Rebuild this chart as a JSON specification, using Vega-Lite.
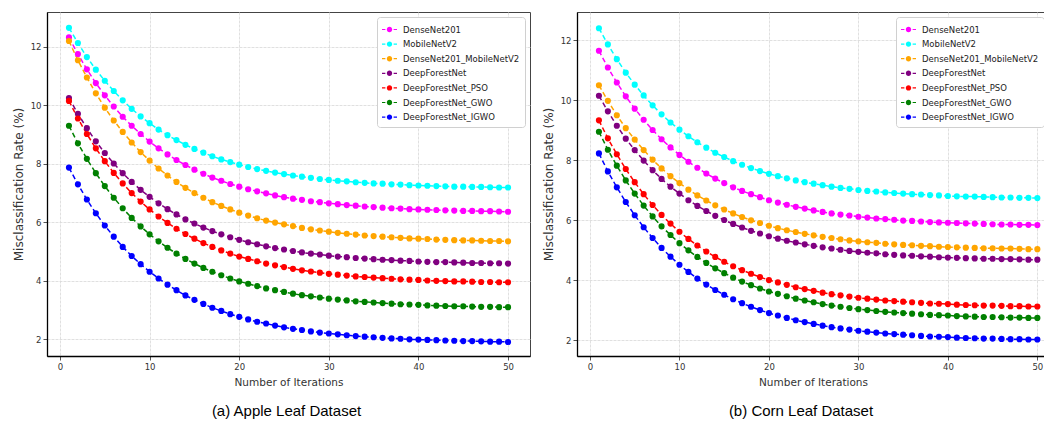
{
"$schema": "https://vega.github.io/schema/vega-lite/v6.json",
"padding": {"left": 11, "top": 11, "right": 0, "bottom": 0},
"background": "white",
"spacing": 10,
"config": {
  "view": {"stroke": "#444", "strokeWidth": 1},
  "axis": {"labelFont": "DejaVu Sans", "labelFontSize": 8.5, "labelColor": "#333", "titleFont": "DejaVu Sans", "titleFontWeight": "normal", "titleColor": "#333", "tickColor": "#555", "tickSize": 4, "labelPadding": 2, "domainColor": "#000", "domainWidth": 1.3, "gridColor": "#d8d8d8", "gridDash": [3, 1], "gridWidth": 0.8},
  "axisX": {"titleFontSize": 10.5, "titlePadding": 7},
  "axisY": {"titleFontSize": 12, "titlePadding": 5},
  "title": {"font": "Liberation Sans", "fontSize": 15, "fontWeight": "normal", "color": "#000", "orient": "bottom", "offset": 16},
  "legend": {"symbolSize": 225, "symbolStrokeWidth": 0, "symbolOpacity": 1, "labelFont": "DejaVu Sans", "labelFontSize": 8.5, "labelColor": "#222", "fillColor": "#ffffff", "strokeColor": "#d0d0d0", "cornerRadius": 3, "padding": 5, "rowPadding": 2.6, "labelOffset": 6}
},
"resolve": {"scale": {"color": "independent", "x": "independent", "y": "independent"}, "legend": {"color": "independent"}},
"datasets": {
"apple": [
{"model":"DenseNet201","iter":1,"rate":12.32},{"model":"DenseNet201","iter":2,"rate":11.75},{"model":"DenseNet201","iter":3,"rate":11.23},{"model":"DenseNet201","iter":4,"rate":10.76},{"model":"DenseNet201","iter":5,"rate":10.34},{"model":"DenseNet201","iter":6,"rate":9.96},{"model":"DenseNet201","iter":7,"rate":9.61},{"model":"DenseNet201","iter":8,"rate":9.30},{"model":"DenseNet201","iter":9,"rate":9.02},{"model":"DenseNet201","iter":10,"rate":8.76},
{"model":"DenseNet201","iter":11,"rate":8.53},{"model":"DenseNet201","iter":12,"rate":8.32},{"model":"DenseNet201","iter":13,"rate":8.13},{"model":"DenseNet201","iter":14,"rate":7.96},{"model":"DenseNet201","iter":15,"rate":7.80},{"model":"DenseNet201","iter":16,"rate":7.66},{"model":"DenseNet201","iter":17,"rate":7.53},{"model":"DenseNet201","iter":18,"rate":7.42},{"model":"DenseNet201","iter":19,"rate":7.31},{"model":"DenseNet201","iter":20,"rate":7.22},
{"model":"DenseNet201","iter":21,"rate":7.13},{"model":"DenseNet201","iter":22,"rate":7.06},{"model":"DenseNet201","iter":23,"rate":6.99},{"model":"DenseNet201","iter":24,"rate":6.92},{"model":"DenseNet201","iter":25,"rate":6.86},{"model":"DenseNet201","iter":26,"rate":6.81},{"model":"DenseNet201","iter":27,"rate":6.77},{"model":"DenseNet201","iter":28,"rate":6.72},{"model":"DenseNet201","iter":29,"rate":6.69},{"model":"DenseNet201","iter":30,"rate":6.65},
{"model":"DenseNet201","iter":31,"rate":6.62},{"model":"DenseNet201","iter":32,"rate":6.59},{"model":"DenseNet201","iter":33,"rate":6.57},{"model":"DenseNet201","iter":34,"rate":6.54},{"model":"DenseNet201","iter":35,"rate":6.52},{"model":"DenseNet201","iter":36,"rate":6.50},{"model":"DenseNet201","iter":37,"rate":6.48},{"model":"DenseNet201","iter":38,"rate":6.47},{"model":"DenseNet201","iter":39,"rate":6.45},{"model":"DenseNet201","iter":40,"rate":6.44},
{"model":"DenseNet201","iter":41,"rate":6.43},{"model":"DenseNet201","iter":42,"rate":6.42},{"model":"DenseNet201","iter":43,"rate":6.41},{"model":"DenseNet201","iter":44,"rate":6.40},{"model":"DenseNet201","iter":45,"rate":6.39},{"model":"DenseNet201","iter":46,"rate":6.39},{"model":"DenseNet201","iter":47,"rate":6.38},{"model":"DenseNet201","iter":48,"rate":6.38},{"model":"DenseNet201","iter":49,"rate":6.37},{"model":"DenseNet201","iter":50,"rate":6.36},
{"model":"MobileNetV2","iter":1,"rate":12.65},{"model":"MobileNetV2","iter":2,"rate":12.13},{"model":"MobileNetV2","iter":3,"rate":11.65},{"model":"MobileNetV2","iter":4,"rate":11.22},{"model":"MobileNetV2","iter":5,"rate":10.84},{"model":"MobileNetV2","iter":6,"rate":10.49},{"model":"MobileNetV2","iter":7,"rate":10.17},{"model":"MobileNetV2","iter":8,"rate":9.88},{"model":"MobileNetV2","iter":9,"rate":9.62},{"model":"MobileNetV2","iter":10,"rate":9.39},
{"model":"MobileNetV2","iter":11,"rate":9.17},{"model":"MobileNetV2","iter":12,"rate":8.98},{"model":"MobileNetV2","iter":13,"rate":8.81},{"model":"MobileNetV2","iter":14,"rate":8.65},{"model":"MobileNetV2","iter":15,"rate":8.51},{"model":"MobileNetV2","iter":16,"rate":8.38},{"model":"MobileNetV2","iter":17,"rate":8.26},{"model":"MobileNetV2","iter":18,"rate":8.15},{"model":"MobileNetV2","iter":19,"rate":8.06},{"model":"MobileNetV2","iter":20,"rate":7.97},
{"model":"MobileNetV2","iter":21,"rate":7.89},{"model":"MobileNetV2","iter":22,"rate":7.82},{"model":"MobileNetV2","iter":23,"rate":7.76},{"model":"MobileNetV2","iter":24,"rate":7.70},{"model":"MobileNetV2","iter":25,"rate":7.65},{"model":"MobileNetV2","iter":26,"rate":7.60},{"model":"MobileNetV2","iter":27,"rate":7.56},{"model":"MobileNetV2","iter":28,"rate":7.52},{"model":"MobileNetV2","iter":29,"rate":7.48},{"model":"MobileNetV2","iter":30,"rate":7.45},
{"model":"MobileNetV2","iter":31,"rate":7.42},{"model":"MobileNetV2","iter":32,"rate":7.40},{"model":"MobileNetV2","iter":33,"rate":7.37},{"model":"MobileNetV2","iter":34,"rate":7.35},{"model":"MobileNetV2","iter":35,"rate":7.33},{"model":"MobileNetV2","iter":36,"rate":7.32},{"model":"MobileNetV2","iter":37,"rate":7.30},{"model":"MobileNetV2","iter":38,"rate":7.29},{"model":"MobileNetV2","iter":39,"rate":7.27},{"model":"MobileNetV2","iter":40,"rate":7.26},
{"model":"MobileNetV2","iter":41,"rate":7.25},{"model":"MobileNetV2","iter":42,"rate":7.24},{"model":"MobileNetV2","iter":43,"rate":7.23},{"model":"MobileNetV2","iter":44,"rate":7.22},{"model":"MobileNetV2","iter":45,"rate":7.22},{"model":"MobileNetV2","iter":46,"rate":7.21},{"model":"MobileNetV2","iter":47,"rate":7.21},{"model":"MobileNetV2","iter":48,"rate":7.20},{"model":"MobileNetV2","iter":49,"rate":7.19},{"model":"MobileNetV2","iter":50,"rate":7.19},
{"model":"DenseNet201_MobileNetV2","iter":1,"rate":12.20},{"model":"DenseNet201_MobileNetV2","iter":2,"rate":11.54},{"model":"DenseNet201_MobileNetV2","iter":3,"rate":10.95},{"model":"DenseNet201_MobileNetV2","iter":4,"rate":10.41},{"model":"DenseNet201_MobileNetV2","iter":5,"rate":9.92},{"model":"DenseNet201_MobileNetV2","iter":6,"rate":9.48},{"model":"DenseNet201_MobileNetV2","iter":7,"rate":9.09},{"model":"DenseNet201_MobileNetV2","iter":8,"rate":8.73},{"model":"DenseNet201_MobileNetV2","iter":9,"rate":8.40},{"model":"DenseNet201_MobileNetV2","iter":10,"rate":8.11},
{"model":"DenseNet201_MobileNetV2","iter":11,"rate":7.84},{"model":"DenseNet201_MobileNetV2","iter":12,"rate":7.60},{"model":"DenseNet201_MobileNetV2","iter":13,"rate":7.38},{"model":"DenseNet201_MobileNetV2","iter":14,"rate":7.18},{"model":"DenseNet201_MobileNetV2","iter":15,"rate":7.00},{"model":"DenseNet201_MobileNetV2","iter":16,"rate":6.84},{"model":"DenseNet201_MobileNetV2","iter":17,"rate":6.69},{"model":"DenseNet201_MobileNetV2","iter":18,"rate":6.56},{"model":"DenseNet201_MobileNetV2","iter":19,"rate":6.44},{"model":"DenseNet201_MobileNetV2","iter":20,"rate":6.33},
{"model":"DenseNet201_MobileNetV2","iter":21,"rate":6.23},{"model":"DenseNet201_MobileNetV2","iter":22,"rate":6.14},{"model":"DenseNet201_MobileNetV2","iter":23,"rate":6.06},{"model":"DenseNet201_MobileNetV2","iter":24,"rate":5.99},{"model":"DenseNet201_MobileNetV2","iter":25,"rate":5.93},{"model":"DenseNet201_MobileNetV2","iter":26,"rate":5.87},{"model":"DenseNet201_MobileNetV2","iter":27,"rate":5.81},{"model":"DenseNet201_MobileNetV2","iter":28,"rate":5.76},{"model":"DenseNet201_MobileNetV2","iter":29,"rate":5.72},{"model":"DenseNet201_MobileNetV2","iter":30,"rate":5.68},
{"model":"DenseNet201_MobileNetV2","iter":31,"rate":5.64},{"model":"DenseNet201_MobileNetV2","iter":32,"rate":5.61},{"model":"DenseNet201_MobileNetV2","iter":33,"rate":5.58},{"model":"DenseNet201_MobileNetV2","iter":34,"rate":5.55},{"model":"DenseNet201_MobileNetV2","iter":35,"rate":5.53},{"model":"DenseNet201_MobileNetV2","iter":36,"rate":5.51},{"model":"DenseNet201_MobileNetV2","iter":37,"rate":5.49},{"model":"DenseNet201_MobileNetV2","iter":38,"rate":5.47},{"model":"DenseNet201_MobileNetV2","iter":39,"rate":5.45},{"model":"DenseNet201_MobileNetV2","iter":40,"rate":5.44},
{"model":"DenseNet201_MobileNetV2","iter":41,"rate":5.43},{"model":"DenseNet201_MobileNetV2","iter":42,"rate":5.41},{"model":"DenseNet201_MobileNetV2","iter":43,"rate":5.40},{"model":"DenseNet201_MobileNetV2","iter":44,"rate":5.39},{"model":"DenseNet201_MobileNetV2","iter":45,"rate":5.38},{"model":"DenseNet201_MobileNetV2","iter":46,"rate":5.38},{"model":"DenseNet201_MobileNetV2","iter":47,"rate":5.37},{"model":"DenseNet201_MobileNetV2","iter":48,"rate":5.36},{"model":"DenseNet201_MobileNetV2","iter":49,"rate":5.36},{"model":"DenseNet201_MobileNetV2","iter":50,"rate":5.35},
{"model":"DeepForestNet","iter":1,"rate":10.25},{"model":"DeepForestNet","iter":2,"rate":9.71},{"model":"DeepForestNet","iter":3,"rate":9.22},{"model":"DeepForestNet","iter":4,"rate":8.77},{"model":"DeepForestNet","iter":5,"rate":8.37},{"model":"DeepForestNet","iter":6,"rate":8.01},{"model":"DeepForestNet","iter":7,"rate":7.68},{"model":"DeepForestNet","iter":8,"rate":7.38},{"model":"DeepForestNet","iter":9,"rate":7.11},{"model":"DeepForestNet","iter":10,"rate":6.87},
{"model":"DeepForestNet","iter":11,"rate":6.65},{"model":"DeepForestNet","iter":12,"rate":6.45},{"model":"DeepForestNet","iter":13,"rate":6.27},{"model":"DeepForestNet","iter":14,"rate":6.10},{"model":"DeepForestNet","iter":15,"rate":5.96},{"model":"DeepForestNet","iter":16,"rate":5.82},{"model":"DeepForestNet","iter":17,"rate":5.70},{"model":"DeepForestNet","iter":18,"rate":5.59},{"model":"DeepForestNet","iter":19,"rate":5.49},{"model":"DeepForestNet","iter":20,"rate":5.40},
{"model":"DeepForestNet","iter":21,"rate":5.32},{"model":"DeepForestNet","iter":22,"rate":5.25},{"model":"DeepForestNet","iter":23,"rate":5.18},{"model":"DeepForestNet","iter":24,"rate":5.12},{"model":"DeepForestNet","iter":25,"rate":5.07},{"model":"DeepForestNet","iter":26,"rate":5.02},{"model":"DeepForestNet","iter":27,"rate":4.97},{"model":"DeepForestNet","iter":28,"rate":4.93},{"model":"DeepForestNet","iter":29,"rate":4.90},{"model":"DeepForestNet","iter":30,"rate":4.86},
{"model":"DeepForestNet","iter":31,"rate":4.83},{"model":"DeepForestNet","iter":32,"rate":4.81},{"model":"DeepForestNet","iter":33,"rate":4.78},{"model":"DeepForestNet","iter":34,"rate":4.76},{"model":"DeepForestNet","iter":35,"rate":4.74},{"model":"DeepForestNet","iter":36,"rate":4.72},{"model":"DeepForestNet","iter":37,"rate":4.71},{"model":"DeepForestNet","iter":38,"rate":4.69},{"model":"DeepForestNet","iter":39,"rate":4.68},{"model":"DeepForestNet","iter":40,"rate":4.66},
{"model":"DeepForestNet","iter":41,"rate":4.65},{"model":"DeepForestNet","iter":42,"rate":4.64},{"model":"DeepForestNet","iter":43,"rate":4.64},{"model":"DeepForestNet","iter":44,"rate":4.63},{"model":"DeepForestNet","iter":45,"rate":4.62},{"model":"DeepForestNet","iter":46,"rate":4.61},{"model":"DeepForestNet","iter":47,"rate":4.61},{"model":"DeepForestNet","iter":48,"rate":4.60},{"model":"DeepForestNet","iter":49,"rate":4.60},{"model":"DeepForestNet","iter":50,"rate":4.59},
{"model":"DeepForestNet_PSO","iter":1,"rate":10.15},{"model":"DeepForestNet_PSO","iter":2,"rate":9.55},{"model":"DeepForestNet_PSO","iter":3,"rate":9.02},{"model":"DeepForestNet_PSO","iter":4,"rate":8.53},{"model":"DeepForestNet_PSO","iter":5,"rate":8.09},{"model":"DeepForestNet_PSO","iter":6,"rate":7.69},{"model":"DeepForestNet_PSO","iter":7,"rate":7.33},{"model":"DeepForestNet_PSO","iter":8,"rate":7.00},{"model":"DeepForestNet_PSO","iter":9,"rate":6.71},{"model":"DeepForestNet_PSO","iter":10,"rate":6.44},
{"model":"DeepForestNet_PSO","iter":11,"rate":6.20},{"model":"DeepForestNet_PSO","iter":12,"rate":5.98},{"model":"DeepForestNet_PSO","iter":13,"rate":5.78},{"model":"DeepForestNet_PSO","iter":14,"rate":5.60},{"model":"DeepForestNet_PSO","iter":15,"rate":5.44},{"model":"DeepForestNet_PSO","iter":16,"rate":5.29},{"model":"DeepForestNet_PSO","iter":17,"rate":5.16},{"model":"DeepForestNet_PSO","iter":18,"rate":5.04},{"model":"DeepForestNet_PSO","iter":19,"rate":4.93},{"model":"DeepForestNet_PSO","iter":20,"rate":4.83},
{"model":"DeepForestNet_PSO","iter":21,"rate":4.75},{"model":"DeepForestNet_PSO","iter":22,"rate":4.67},{"model":"DeepForestNet_PSO","iter":23,"rate":4.59},{"model":"DeepForestNet_PSO","iter":24,"rate":4.53},{"model":"DeepForestNet_PSO","iter":25,"rate":4.47},{"model":"DeepForestNet_PSO","iter":26,"rate":4.41},{"model":"DeepForestNet_PSO","iter":27,"rate":4.36},{"model":"DeepForestNet_PSO","iter":28,"rate":4.32},{"model":"DeepForestNet_PSO","iter":29,"rate":4.28},{"model":"DeepForestNet_PSO","iter":30,"rate":4.24},
{"model":"DeepForestNet_PSO","iter":31,"rate":4.21},{"model":"DeepForestNet_PSO","iter":32,"rate":4.18},{"model":"DeepForestNet_PSO","iter":33,"rate":4.15},{"model":"DeepForestNet_PSO","iter":34,"rate":4.13},{"model":"DeepForestNet_PSO","iter":35,"rate":4.11},{"model":"DeepForestNet_PSO","iter":36,"rate":4.09},{"model":"DeepForestNet_PSO","iter":37,"rate":4.07},{"model":"DeepForestNet_PSO","iter":38,"rate":4.05},{"model":"DeepForestNet_PSO","iter":39,"rate":4.04},{"model":"DeepForestNet_PSO","iter":40,"rate":4.03},
{"model":"DeepForestNet_PSO","iter":41,"rate":4.01},{"model":"DeepForestNet_PSO","iter":42,"rate":4.00},{"model":"DeepForestNet_PSO","iter":43,"rate":3.99},{"model":"DeepForestNet_PSO","iter":44,"rate":3.98},{"model":"DeepForestNet_PSO","iter":45,"rate":3.98},{"model":"DeepForestNet_PSO","iter":46,"rate":3.97},{"model":"DeepForestNet_PSO","iter":47,"rate":3.96},{"model":"DeepForestNet_PSO","iter":48,"rate":3.96},{"model":"DeepForestNet_PSO","iter":49,"rate":3.95},{"model":"DeepForestNet_PSO","iter":50,"rate":3.95},
{"model":"DeepForestNet_GWO","iter":1,"rate":9.30},{"model":"DeepForestNet_GWO","iter":2,"rate":8.70},{"model":"DeepForestNet_GWO","iter":3,"rate":8.17},{"model":"DeepForestNet_GWO","iter":4,"rate":7.68},{"model":"DeepForestNet_GWO","iter":5,"rate":7.24},{"model":"DeepForestNet_GWO","iter":6,"rate":6.84},{"model":"DeepForestNet_GWO","iter":7,"rate":6.48},{"model":"DeepForestNet_GWO","iter":8,"rate":6.15},{"model":"DeepForestNet_GWO","iter":9,"rate":5.86},{"model":"DeepForestNet_GWO","iter":10,"rate":5.59},
{"model":"DeepForestNet_GWO","iter":11,"rate":5.35},{"model":"DeepForestNet_GWO","iter":12,"rate":5.13},{"model":"DeepForestNet_GWO","iter":13,"rate":4.93},{"model":"DeepForestNet_GWO","iter":14,"rate":4.75},{"model":"DeepForestNet_GWO","iter":15,"rate":4.59},{"model":"DeepForestNet_GWO","iter":16,"rate":4.44},{"model":"DeepForestNet_GWO","iter":17,"rate":4.31},{"model":"DeepForestNet_GWO","iter":18,"rate":4.19},{"model":"DeepForestNet_GWO","iter":19,"rate":4.08},{"model":"DeepForestNet_GWO","iter":20,"rate":3.98},
{"model":"DeepForestNet_GWO","iter":21,"rate":3.90},{"model":"DeepForestNet_GWO","iter":22,"rate":3.82},{"model":"DeepForestNet_GWO","iter":23,"rate":3.74},{"model":"DeepForestNet_GWO","iter":24,"rate":3.68},{"model":"DeepForestNet_GWO","iter":25,"rate":3.62},{"model":"DeepForestNet_GWO","iter":26,"rate":3.56},{"model":"DeepForestNet_GWO","iter":27,"rate":3.51},{"model":"DeepForestNet_GWO","iter":28,"rate":3.47},{"model":"DeepForestNet_GWO","iter":29,"rate":3.43},{"model":"DeepForestNet_GWO","iter":30,"rate":3.39},
{"model":"DeepForestNet_GWO","iter":31,"rate":3.36},{"model":"DeepForestNet_GWO","iter":32,"rate":3.33},{"model":"DeepForestNet_GWO","iter":33,"rate":3.30},{"model":"DeepForestNet_GWO","iter":34,"rate":3.28},{"model":"DeepForestNet_GWO","iter":35,"rate":3.26},{"model":"DeepForestNet_GWO","iter":36,"rate":3.24},{"model":"DeepForestNet_GWO","iter":37,"rate":3.22},{"model":"DeepForestNet_GWO","iter":38,"rate":3.20},{"model":"DeepForestNet_GWO","iter":39,"rate":3.19},{"model":"DeepForestNet_GWO","iter":40,"rate":3.18},
{"model":"DeepForestNet_GWO","iter":41,"rate":3.16},{"model":"DeepForestNet_GWO","iter":42,"rate":3.15},{"model":"DeepForestNet_GWO","iter":43,"rate":3.14},{"model":"DeepForestNet_GWO","iter":44,"rate":3.13},{"model":"DeepForestNet_GWO","iter":45,"rate":3.13},{"model":"DeepForestNet_GWO","iter":46,"rate":3.12},{"model":"DeepForestNet_GWO","iter":47,"rate":3.11},{"model":"DeepForestNet_GWO","iter":48,"rate":3.11},{"model":"DeepForestNet_GWO","iter":49,"rate":3.10},{"model":"DeepForestNet_GWO","iter":50,"rate":3.10},
{"model":"DeepForestNet_IGWO","iter":1,"rate":7.87},{"model":"DeepForestNet_IGWO","iter":2,"rate":7.30},{"model":"DeepForestNet_IGWO","iter":3,"rate":6.78},{"model":"DeepForestNet_IGWO","iter":4,"rate":6.31},{"model":"DeepForestNet_IGWO","iter":5,"rate":5.89},{"model":"DeepForestNet_IGWO","iter":6,"rate":5.51},{"model":"DeepForestNet_IGWO","iter":7,"rate":5.16},{"model":"DeepForestNet_IGWO","iter":8,"rate":4.85},{"model":"DeepForestNet_IGWO","iter":9,"rate":4.57},{"model":"DeepForestNet_IGWO","iter":10,"rate":4.31},
{"model":"DeepForestNet_IGWO","iter":11,"rate":4.08},{"model":"DeepForestNet_IGWO","iter":12,"rate":3.87},{"model":"DeepForestNet_IGWO","iter":13,"rate":3.68},{"model":"DeepForestNet_IGWO","iter":14,"rate":3.50},{"model":"DeepForestNet_IGWO","iter":15,"rate":3.35},{"model":"DeepForestNet_IGWO","iter":16,"rate":3.21},{"model":"DeepForestNet_IGWO","iter":17,"rate":3.08},{"model":"DeepForestNet_IGWO","iter":18,"rate":2.97},{"model":"DeepForestNet_IGWO","iter":19,"rate":2.86},{"model":"DeepForestNet_IGWO","iter":20,"rate":2.77},
{"model":"DeepForestNet_IGWO","iter":21,"rate":2.68},{"model":"DeepForestNet_IGWO","iter":22,"rate":2.60},{"model":"DeepForestNet_IGWO","iter":23,"rate":2.54},{"model":"DeepForestNet_IGWO","iter":24,"rate":2.47},{"model":"DeepForestNet_IGWO","iter":25,"rate":2.41},{"model":"DeepForestNet_IGWO","iter":26,"rate":2.36},{"model":"DeepForestNet_IGWO","iter":27,"rate":2.32},{"model":"DeepForestNet_IGWO","iter":28,"rate":2.27},{"model":"DeepForestNet_IGWO","iter":29,"rate":2.23},{"model":"DeepForestNet_IGWO","iter":30,"rate":2.20},
{"model":"DeepForestNet_IGWO","iter":31,"rate":2.17},{"model":"DeepForestNet_IGWO","iter":32,"rate":2.14},{"model":"DeepForestNet_IGWO","iter":33,"rate":2.11},{"model":"DeepForestNet_IGWO","iter":34,"rate":2.09},{"model":"DeepForestNet_IGWO","iter":35,"rate":2.07},{"model":"DeepForestNet_IGWO","iter":36,"rate":2.05},{"model":"DeepForestNet_IGWO","iter":37,"rate":2.03},{"model":"DeepForestNet_IGWO","iter":38,"rate":2.02},{"model":"DeepForestNet_IGWO","iter":39,"rate":2.00},{"model":"DeepForestNet_IGWO","iter":40,"rate":1.99},
{"model":"DeepForestNet_IGWO","iter":41,"rate":1.98},{"model":"DeepForestNet_IGWO","iter":42,"rate":1.97},{"model":"DeepForestNet_IGWO","iter":43,"rate":1.96},{"model":"DeepForestNet_IGWO","iter":44,"rate":1.95},{"model":"DeepForestNet_IGWO","iter":45,"rate":1.94},{"model":"DeepForestNet_IGWO","iter":46,"rate":1.94},{"model":"DeepForestNet_IGWO","iter":47,"rate":1.93},{"model":"DeepForestNet_IGWO","iter":48,"rate":1.92},{"model":"DeepForestNet_IGWO","iter":49,"rate":1.92},{"model":"DeepForestNet_IGWO","iter":50,"rate":1.91}
],
"corn": [
{"model":"DenseNet201","iter":1,"rate":11.65},{"model":"DenseNet201","iter":2,"rate":11.09},{"model":"DenseNet201","iter":3,"rate":10.59},{"model":"DenseNet201","iter":4,"rate":10.13},{"model":"DenseNet201","iter":5,"rate":9.72},{"model":"DenseNet201","iter":6,"rate":9.35},{"model":"DenseNet201","iter":7,"rate":9.01},{"model":"DenseNet201","iter":8,"rate":8.70},{"model":"DenseNet201","iter":9,"rate":8.43},{"model":"DenseNet201","iter":10,"rate":8.18},
{"model":"DenseNet201","iter":11,"rate":7.95},{"model":"DenseNet201","iter":12,"rate":7.75},{"model":"DenseNet201","iter":13,"rate":7.56},{"model":"DenseNet201","iter":14,"rate":7.39},{"model":"DenseNet201","iter":15,"rate":7.24},{"model":"DenseNet201","iter":16,"rate":7.10},{"model":"DenseNet201","iter":17,"rate":6.98},{"model":"DenseNet201","iter":18,"rate":6.87},{"model":"DenseNet201","iter":19,"rate":6.77},{"model":"DenseNet201","iter":20,"rate":6.67},
{"model":"DenseNet201","iter":21,"rate":6.59},{"model":"DenseNet201","iter":22,"rate":6.52},{"model":"DenseNet201","iter":23,"rate":6.45},{"model":"DenseNet201","iter":24,"rate":6.39},{"model":"DenseNet201","iter":25,"rate":6.33},{"model":"DenseNet201","iter":26,"rate":6.28},{"model":"DenseNet201","iter":27,"rate":6.23},{"model":"DenseNet201","iter":28,"rate":6.19},{"model":"DenseNet201","iter":29,"rate":6.16},{"model":"DenseNet201","iter":30,"rate":6.12},
{"model":"DenseNet201","iter":31,"rate":6.09},{"model":"DenseNet201","iter":32,"rate":6.06},{"model":"DenseNet201","iter":33,"rate":6.04},{"model":"DenseNet201","iter":34,"rate":6.02},{"model":"DenseNet201","iter":35,"rate":5.99},{"model":"DenseNet201","iter":36,"rate":5.98},{"model":"DenseNet201","iter":37,"rate":5.96},{"model":"DenseNet201","iter":38,"rate":5.94},{"model":"DenseNet201","iter":39,"rate":5.93},{"model":"DenseNet201","iter":40,"rate":5.92},
{"model":"DenseNet201","iter":41,"rate":5.91},{"model":"DenseNet201","iter":42,"rate":5.90},{"model":"DenseNet201","iter":43,"rate":5.89},{"model":"DenseNet201","iter":44,"rate":5.88},{"model":"DenseNet201","iter":45,"rate":5.87},{"model":"DenseNet201","iter":46,"rate":5.86},{"model":"DenseNet201","iter":47,"rate":5.86},{"model":"DenseNet201","iter":48,"rate":5.85},{"model":"DenseNet201","iter":49,"rate":5.85},{"model":"DenseNet201","iter":50,"rate":5.84},
{"model":"MobileNetV2","iter":1,"rate":12.40},{"model":"MobileNetV2","iter":2,"rate":11.86},{"model":"MobileNetV2","iter":3,"rate":11.37},{"model":"MobileNetV2","iter":4,"rate":10.92},{"model":"MobileNetV2","iter":5,"rate":10.52},{"model":"MobileNetV2","iter":6,"rate":10.16},{"model":"MobileNetV2","iter":7,"rate":9.83},{"model":"MobileNetV2","iter":8,"rate":9.53},{"model":"MobileNetV2","iter":9,"rate":9.26},{"model":"MobileNetV2","iter":10,"rate":9.02},
{"model":"MobileNetV2","iter":11,"rate":8.80},{"model":"MobileNetV2","iter":12,"rate":8.60},{"model":"MobileNetV2","iter":13,"rate":8.42},{"model":"MobileNetV2","iter":14,"rate":8.25},{"model":"MobileNetV2","iter":15,"rate":8.11},{"model":"MobileNetV2","iter":16,"rate":7.97},{"model":"MobileNetV2","iter":17,"rate":7.85},{"model":"MobileNetV2","iter":18,"rate":7.74},{"model":"MobileNetV2","iter":19,"rate":7.64},{"model":"MobileNetV2","iter":20,"rate":7.55},
{"model":"MobileNetV2","iter":21,"rate":7.47},{"model":"MobileNetV2","iter":22,"rate":7.40},{"model":"MobileNetV2","iter":23,"rate":7.33},{"model":"MobileNetV2","iter":24,"rate":7.27},{"model":"MobileNetV2","iter":25,"rate":7.22},{"model":"MobileNetV2","iter":26,"rate":7.17},{"model":"MobileNetV2","iter":27,"rate":7.12},{"model":"MobileNetV2","iter":28,"rate":7.08},{"model":"MobileNetV2","iter":29,"rate":7.05},{"model":"MobileNetV2","iter":30,"rate":7.01},
{"model":"MobileNetV2","iter":31,"rate":6.98},{"model":"MobileNetV2","iter":32,"rate":6.96},{"model":"MobileNetV2","iter":33,"rate":6.93},{"model":"MobileNetV2","iter":34,"rate":6.91},{"model":"MobileNetV2","iter":35,"rate":6.89},{"model":"MobileNetV2","iter":36,"rate":6.87},{"model":"MobileNetV2","iter":37,"rate":6.86},{"model":"MobileNetV2","iter":38,"rate":6.84},{"model":"MobileNetV2","iter":39,"rate":6.83},{"model":"MobileNetV2","iter":40,"rate":6.81},
{"model":"MobileNetV2","iter":41,"rate":6.80},{"model":"MobileNetV2","iter":42,"rate":6.79},{"model":"MobileNetV2","iter":43,"rate":6.79},{"model":"MobileNetV2","iter":44,"rate":6.78},{"model":"MobileNetV2","iter":45,"rate":6.77},{"model":"MobileNetV2","iter":46,"rate":6.76},{"model":"MobileNetV2","iter":47,"rate":6.76},{"model":"MobileNetV2","iter":48,"rate":6.75},{"model":"MobileNetV2","iter":49,"rate":6.75},{"model":"MobileNetV2","iter":50,"rate":6.74},
{"model":"DenseNet201_MobileNetV2","iter":1,"rate":10.50},{"model":"DenseNet201_MobileNetV2","iter":2,"rate":9.98},{"model":"DenseNet201_MobileNetV2","iter":3,"rate":9.50},{"model":"DenseNet201_MobileNetV2","iter":4,"rate":9.07},{"model":"DenseNet201_MobileNetV2","iter":5,"rate":8.69},{"model":"DenseNet201_MobileNetV2","iter":6,"rate":8.34},{"model":"DenseNet201_MobileNetV2","iter":7,"rate":8.02},{"model":"DenseNet201_MobileNetV2","iter":8,"rate":7.73},{"model":"DenseNet201_MobileNetV2","iter":9,"rate":7.47},{"model":"DenseNet201_MobileNetV2","iter":10,"rate":7.24},
{"model":"DenseNet201_MobileNetV2","iter":11,"rate":7.02},{"model":"DenseNet201_MobileNetV2","iter":12,"rate":6.83},{"model":"DenseNet201_MobileNetV2","iter":13,"rate":6.66},{"model":"DenseNet201_MobileNetV2","iter":14,"rate":6.50},{"model":"DenseNet201_MobileNetV2","iter":15,"rate":6.36},{"model":"DenseNet201_MobileNetV2","iter":16,"rate":6.23},{"model":"DenseNet201_MobileNetV2","iter":17,"rate":6.11},{"model":"DenseNet201_MobileNetV2","iter":18,"rate":6.00},{"model":"DenseNet201_MobileNetV2","iter":19,"rate":5.91},{"model":"DenseNet201_MobileNetV2","iter":20,"rate":5.82},
{"model":"DenseNet201_MobileNetV2","iter":21,"rate":5.74},{"model":"DenseNet201_MobileNetV2","iter":22,"rate":5.67},{"model":"DenseNet201_MobileNetV2","iter":23,"rate":5.61},{"model":"DenseNet201_MobileNetV2","iter":24,"rate":5.55},{"model":"DenseNet201_MobileNetV2","iter":25,"rate":5.50},{"model":"DenseNet201_MobileNetV2","iter":26,"rate":5.45},{"model":"DenseNet201_MobileNetV2","iter":27,"rate":5.41},{"model":"DenseNet201_MobileNetV2","iter":28,"rate":5.37},{"model":"DenseNet201_MobileNetV2","iter":29,"rate":5.33},{"model":"DenseNet201_MobileNetV2","iter":30,"rate":5.30},
{"model":"DenseNet201_MobileNetV2","iter":31,"rate":5.27},{"model":"DenseNet201_MobileNetV2","iter":32,"rate":5.25},{"model":"DenseNet201_MobileNetV2","iter":33,"rate":5.22},{"model":"DenseNet201_MobileNetV2","iter":34,"rate":5.20},{"model":"DenseNet201_MobileNetV2","iter":35,"rate":5.18},{"model":"DenseNet201_MobileNetV2","iter":36,"rate":5.17},{"model":"DenseNet201_MobileNetV2","iter":37,"rate":5.15},{"model":"DenseNet201_MobileNetV2","iter":38,"rate":5.14},{"model":"DenseNet201_MobileNetV2","iter":39,"rate":5.12},{"model":"DenseNet201_MobileNetV2","iter":40,"rate":5.11},
{"model":"DenseNet201_MobileNetV2","iter":41,"rate":5.10},{"model":"DenseNet201_MobileNetV2","iter":42,"rate":5.09},{"model":"DenseNet201_MobileNetV2","iter":43,"rate":5.08},{"model":"DenseNet201_MobileNetV2","iter":44,"rate":5.07},{"model":"DenseNet201_MobileNetV2","iter":45,"rate":5.07},{"model":"DenseNet201_MobileNetV2","iter":46,"rate":5.06},{"model":"DenseNet201_MobileNetV2","iter":47,"rate":5.06},{"model":"DenseNet201_MobileNetV2","iter":48,"rate":5.05},{"model":"DenseNet201_MobileNetV2","iter":49,"rate":5.04},{"model":"DenseNet201_MobileNetV2","iter":50,"rate":5.04},
{"model":"DeepForestNet","iter":1,"rate":10.15},{"model":"DeepForestNet","iter":2,"rate":9.63},{"model":"DeepForestNet","iter":3,"rate":9.15},{"model":"DeepForestNet","iter":4,"rate":8.72},{"model":"DeepForestNet","iter":5,"rate":8.34},{"model":"DeepForestNet","iter":6,"rate":7.99},{"model":"DeepForestNet","iter":7,"rate":7.67},{"model":"DeepForestNet","iter":8,"rate":7.38},{"model":"DeepForestNet","iter":9,"rate":7.12},{"model":"DeepForestNet","iter":10,"rate":6.89},
{"model":"DeepForestNet","iter":11,"rate":6.67},{"model":"DeepForestNet","iter":12,"rate":6.48},{"model":"DeepForestNet","iter":13,"rate":6.31},{"model":"DeepForestNet","iter":14,"rate":6.15},{"model":"DeepForestNet","iter":15,"rate":6.01},{"model":"DeepForestNet","iter":16,"rate":5.88},{"model":"DeepForestNet","iter":17,"rate":5.76},{"model":"DeepForestNet","iter":18,"rate":5.65},{"model":"DeepForestNet","iter":19,"rate":5.56},{"model":"DeepForestNet","iter":20,"rate":5.47},
{"model":"DeepForestNet","iter":21,"rate":5.39},{"model":"DeepForestNet","iter":22,"rate":5.32},{"model":"DeepForestNet","iter":23,"rate":5.26},{"model":"DeepForestNet","iter":24,"rate":5.20},{"model":"DeepForestNet","iter":25,"rate":5.15},{"model":"DeepForestNet","iter":26,"rate":5.10},{"model":"DeepForestNet","iter":27,"rate":5.06},{"model":"DeepForestNet","iter":28,"rate":5.02},{"model":"DeepForestNet","iter":29,"rate":4.98},{"model":"DeepForestNet","iter":30,"rate":4.95},
{"model":"DeepForestNet","iter":31,"rate":4.92},{"model":"DeepForestNet","iter":32,"rate":4.90},{"model":"DeepForestNet","iter":33,"rate":4.87},{"model":"DeepForestNet","iter":34,"rate":4.85},{"model":"DeepForestNet","iter":35,"rate":4.83},{"model":"DeepForestNet","iter":36,"rate":4.82},{"model":"DeepForestNet","iter":37,"rate":4.80},{"model":"DeepForestNet","iter":38,"rate":4.79},{"model":"DeepForestNet","iter":39,"rate":4.77},{"model":"DeepForestNet","iter":40,"rate":4.76},
{"model":"DeepForestNet","iter":41,"rate":4.75},{"model":"DeepForestNet","iter":42,"rate":4.74},{"model":"DeepForestNet","iter":43,"rate":4.73},{"model":"DeepForestNet","iter":44,"rate":4.72},{"model":"DeepForestNet","iter":45,"rate":4.72},{"model":"DeepForestNet","iter":46,"rate":4.71},{"model":"DeepForestNet","iter":47,"rate":4.71},{"model":"DeepForestNet","iter":48,"rate":4.70},{"model":"DeepForestNet","iter":49,"rate":4.69},{"model":"DeepForestNet","iter":50,"rate":4.69},
{"model":"DeepForestNet_PSO","iter":1,"rate":9.33},{"model":"DeepForestNet_PSO","iter":2,"rate":8.73},{"model":"DeepForestNet_PSO","iter":3,"rate":8.20},{"model":"DeepForestNet_PSO","iter":4,"rate":7.71},{"model":"DeepForestNet_PSO","iter":5,"rate":7.27},{"model":"DeepForestNet_PSO","iter":6,"rate":6.87},{"model":"DeepForestNet_PSO","iter":7,"rate":6.51},{"model":"DeepForestNet_PSO","iter":8,"rate":6.18},{"model":"DeepForestNet_PSO","iter":9,"rate":5.89},{"model":"DeepForestNet_PSO","iter":10,"rate":5.62},
{"model":"DeepForestNet_PSO","iter":11,"rate":5.38},{"model":"DeepForestNet_PSO","iter":12,"rate":5.16},{"model":"DeepForestNet_PSO","iter":13,"rate":4.96},{"model":"DeepForestNet_PSO","iter":14,"rate":4.78},{"model":"DeepForestNet_PSO","iter":15,"rate":4.62},{"model":"DeepForestNet_PSO","iter":16,"rate":4.47},{"model":"DeepForestNet_PSO","iter":17,"rate":4.34},{"model":"DeepForestNet_PSO","iter":18,"rate":4.22},{"model":"DeepForestNet_PSO","iter":19,"rate":4.11},{"model":"DeepForestNet_PSO","iter":20,"rate":4.01},
{"model":"DeepForestNet_PSO","iter":21,"rate":3.93},{"model":"DeepForestNet_PSO","iter":22,"rate":3.85},{"model":"DeepForestNet_PSO","iter":23,"rate":3.77},{"model":"DeepForestNet_PSO","iter":24,"rate":3.71},{"model":"DeepForestNet_PSO","iter":25,"rate":3.65},{"model":"DeepForestNet_PSO","iter":26,"rate":3.59},{"model":"DeepForestNet_PSO","iter":27,"rate":3.54},{"model":"DeepForestNet_PSO","iter":28,"rate":3.50},{"model":"DeepForestNet_PSO","iter":29,"rate":3.46},{"model":"DeepForestNet_PSO","iter":30,"rate":3.42},
{"model":"DeepForestNet_PSO","iter":31,"rate":3.39},{"model":"DeepForestNet_PSO","iter":32,"rate":3.36},{"model":"DeepForestNet_PSO","iter":33,"rate":3.33},{"model":"DeepForestNet_PSO","iter":34,"rate":3.31},{"model":"DeepForestNet_PSO","iter":35,"rate":3.29},{"model":"DeepForestNet_PSO","iter":36,"rate":3.27},{"model":"DeepForestNet_PSO","iter":37,"rate":3.25},{"model":"DeepForestNet_PSO","iter":38,"rate":3.23},{"model":"DeepForestNet_PSO","iter":39,"rate":3.22},{"model":"DeepForestNet_PSO","iter":40,"rate":3.21},
{"model":"DeepForestNet_PSO","iter":41,"rate":3.19},{"model":"DeepForestNet_PSO","iter":42,"rate":3.18},{"model":"DeepForestNet_PSO","iter":43,"rate":3.17},{"model":"DeepForestNet_PSO","iter":44,"rate":3.16},{"model":"DeepForestNet_PSO","iter":45,"rate":3.16},{"model":"DeepForestNet_PSO","iter":46,"rate":3.15},{"model":"DeepForestNet_PSO","iter":47,"rate":3.14},{"model":"DeepForestNet_PSO","iter":48,"rate":3.14},{"model":"DeepForestNet_PSO","iter":49,"rate":3.13},{"model":"DeepForestNet_PSO","iter":50,"rate":3.13},
{"model":"DeepForestNet_GWO","iter":1,"rate":8.95},{"model":"DeepForestNet_GWO","iter":2,"rate":8.35},{"model":"DeepForestNet_GWO","iter":3,"rate":7.82},{"model":"DeepForestNet_GWO","iter":4,"rate":7.33},{"model":"DeepForestNet_GWO","iter":5,"rate":6.89},{"model":"DeepForestNet_GWO","iter":6,"rate":6.49},{"model":"DeepForestNet_GWO","iter":7,"rate":6.13},{"model":"DeepForestNet_GWO","iter":8,"rate":5.80},{"model":"DeepForestNet_GWO","iter":9,"rate":5.51},{"model":"DeepForestNet_GWO","iter":10,"rate":5.24},
{"model":"DeepForestNet_GWO","iter":11,"rate":5.00},{"model":"DeepForestNet_GWO","iter":12,"rate":4.78},{"model":"DeepForestNet_GWO","iter":13,"rate":4.58},{"model":"DeepForestNet_GWO","iter":14,"rate":4.40},{"model":"DeepForestNet_GWO","iter":15,"rate":4.24},{"model":"DeepForestNet_GWO","iter":16,"rate":4.09},{"model":"DeepForestNet_GWO","iter":17,"rate":3.96},{"model":"DeepForestNet_GWO","iter":18,"rate":3.84},{"model":"DeepForestNet_GWO","iter":19,"rate":3.73},{"model":"DeepForestNet_GWO","iter":20,"rate":3.63},
{"model":"DeepForestNet_GWO","iter":21,"rate":3.55},{"model":"DeepForestNet_GWO","iter":22,"rate":3.47},{"model":"DeepForestNet_GWO","iter":23,"rate":3.39},{"model":"DeepForestNet_GWO","iter":24,"rate":3.33},{"model":"DeepForestNet_GWO","iter":25,"rate":3.27},{"model":"DeepForestNet_GWO","iter":26,"rate":3.21},{"model":"DeepForestNet_GWO","iter":27,"rate":3.16},{"model":"DeepForestNet_GWO","iter":28,"rate":3.12},{"model":"DeepForestNet_GWO","iter":29,"rate":3.08},{"model":"DeepForestNet_GWO","iter":30,"rate":3.04},
{"model":"DeepForestNet_GWO","iter":31,"rate":3.01},{"model":"DeepForestNet_GWO","iter":32,"rate":2.98},{"model":"DeepForestNet_GWO","iter":33,"rate":2.95},{"model":"DeepForestNet_GWO","iter":34,"rate":2.93},{"model":"DeepForestNet_GWO","iter":35,"rate":2.91},{"model":"DeepForestNet_GWO","iter":36,"rate":2.89},{"model":"DeepForestNet_GWO","iter":37,"rate":2.87},{"model":"DeepForestNet_GWO","iter":38,"rate":2.85},{"model":"DeepForestNet_GWO","iter":39,"rate":2.84},{"model":"DeepForestNet_GWO","iter":40,"rate":2.83},
{"model":"DeepForestNet_GWO","iter":41,"rate":2.81},{"model":"DeepForestNet_GWO","iter":42,"rate":2.80},{"model":"DeepForestNet_GWO","iter":43,"rate":2.79},{"model":"DeepForestNet_GWO","iter":44,"rate":2.78},{"model":"DeepForestNet_GWO","iter":45,"rate":2.78},{"model":"DeepForestNet_GWO","iter":46,"rate":2.77},{"model":"DeepForestNet_GWO","iter":47,"rate":2.76},{"model":"DeepForestNet_GWO","iter":48,"rate":2.76},{"model":"DeepForestNet_GWO","iter":49,"rate":2.75},{"model":"DeepForestNet_GWO","iter":50,"rate":2.75},
{"model":"DeepForestNet_IGWO","iter":1,"rate":8.23},{"model":"DeepForestNet_IGWO","iter":2,"rate":7.63},{"model":"DeepForestNet_IGWO","iter":3,"rate":7.10},{"model":"DeepForestNet_IGWO","iter":4,"rate":6.61},{"model":"DeepForestNet_IGWO","iter":5,"rate":6.17},{"model":"DeepForestNet_IGWO","iter":6,"rate":5.77},{"model":"DeepForestNet_IGWO","iter":7,"rate":5.41},{"model":"DeepForestNet_IGWO","iter":8,"rate":5.08},{"model":"DeepForestNet_IGWO","iter":9,"rate":4.79},{"model":"DeepForestNet_IGWO","iter":10,"rate":4.52},
{"model":"DeepForestNet_IGWO","iter":11,"rate":4.28},{"model":"DeepForestNet_IGWO","iter":12,"rate":4.06},{"model":"DeepForestNet_IGWO","iter":13,"rate":3.86},{"model":"DeepForestNet_IGWO","iter":14,"rate":3.68},{"model":"DeepForestNet_IGWO","iter":15,"rate":3.52},{"model":"DeepForestNet_IGWO","iter":16,"rate":3.37},{"model":"DeepForestNet_IGWO","iter":17,"rate":3.24},{"model":"DeepForestNet_IGWO","iter":18,"rate":3.12},{"model":"DeepForestNet_IGWO","iter":19,"rate":3.01},{"model":"DeepForestNet_IGWO","iter":20,"rate":2.91},
{"model":"DeepForestNet_IGWO","iter":21,"rate":2.83},{"model":"DeepForestNet_IGWO","iter":22,"rate":2.75},{"model":"DeepForestNet_IGWO","iter":23,"rate":2.67},{"model":"DeepForestNet_IGWO","iter":24,"rate":2.61},{"model":"DeepForestNet_IGWO","iter":25,"rate":2.55},{"model":"DeepForestNet_IGWO","iter":26,"rate":2.49},{"model":"DeepForestNet_IGWO","iter":27,"rate":2.44},{"model":"DeepForestNet_IGWO","iter":28,"rate":2.40},{"model":"DeepForestNet_IGWO","iter":29,"rate":2.36},{"model":"DeepForestNet_IGWO","iter":30,"rate":2.32},
{"model":"DeepForestNet_IGWO","iter":31,"rate":2.29},{"model":"DeepForestNet_IGWO","iter":32,"rate":2.26},{"model":"DeepForestNet_IGWO","iter":33,"rate":2.23},{"model":"DeepForestNet_IGWO","iter":34,"rate":2.21},{"model":"DeepForestNet_IGWO","iter":35,"rate":2.19},{"model":"DeepForestNet_IGWO","iter":36,"rate":2.17},{"model":"DeepForestNet_IGWO","iter":37,"rate":2.15},{"model":"DeepForestNet_IGWO","iter":38,"rate":2.13},{"model":"DeepForestNet_IGWO","iter":39,"rate":2.12},{"model":"DeepForestNet_IGWO","iter":40,"rate":2.11},
{"model":"DeepForestNet_IGWO","iter":41,"rate":2.09},{"model":"DeepForestNet_IGWO","iter":42,"rate":2.08},{"model":"DeepForestNet_IGWO","iter":43,"rate":2.07},{"model":"DeepForestNet_IGWO","iter":44,"rate":2.06},{"model":"DeepForestNet_IGWO","iter":45,"rate":2.06},{"model":"DeepForestNet_IGWO","iter":46,"rate":2.05},{"model":"DeepForestNet_IGWO","iter":47,"rate":2.04},{"model":"DeepForestNet_IGWO","iter":48,"rate":2.04},{"model":"DeepForestNet_IGWO","iter":49,"rate":2.03},{"model":"DeepForestNet_IGWO","iter":50,"rate":2.03}
]
},
"hconcat": [
{
  "width": 483, "height": 344,
  "data": {"name": "apple"},
  "title": {"text": "(a) Apple Leaf Dataset", "dx": -2},
  "encoding": {
    "x": {"field": "iter", "type": "quantitative", "scale": {"domain": [-1.45, 52.45], "nice": false, "zero": false}, "axis": {"values": [0, 10, 20, 30, 40, 50], "title": "Number of Iterations"}},
    "y": {"field": "rate", "type": "quantitative", "scale": {"domain": [1.43, 13.19], "nice": false, "zero": false}, "axis": {"values": [2, 4, 6, 8, 10, 12], "title": "Misclassification Rate (%)"}},
    "color": {"field": "model", "type": "nominal", "scale": {"domain": ["DenseNet201", "MobileNetV2", "DenseNet201_MobileNetV2", "DeepForestNet", "DeepForestNet_PSO", "DeepForestNet_GWO", "DeepForestNet_IGWO"], "range": ["#ff00ff", "#00ffff", "#ffa500", "#800080", "#ff0000", "#008000", "#0000ff"]}, "legend": {"orient": "top-right", "title": null, "offset": 5, "symbolType": "M-1,-0.08L-0.55,-0.08L-0.55,0.08L-1,0.08Z M0.55,-0.08L1,-0.08L1,0.08L0.55,0.08Z M-0.36,0A0.36,0.36,0,1,0,0.36,0A0.36,0.36,0,1,0,-0.36,0Z"}}
  },
  "layer": [
    {"mark": {"type": "line", "strokeDash": [5, 3], "strokeWidth": 1.5}},
    {"mark": {"type": "point", "filled": true, "size": 38, "opacity": 1, "strokeWidth": 0}}
  ]
},
{
  "width": 472, "height": 344,
  "data": {"name": "corn"},
  "title": {"text": "(b) Corn Leaf Dataset", "dx": -12},
  "encoding": {
    "x": {"field": "iter", "type": "quantitative", "scale": {"domain": [-1.45, 51.3], "nice": false, "zero": false}, "axis": {"values": [0, 10, 20, 30, 40, 50], "title": "Number of Iterations"}},
    "y": {"field": "rate", "type": "quantitative", "scale": {"domain": [1.48, 12.94], "nice": false, "zero": false}, "axis": {"values": [2, 4, 6, 8, 10, 12], "title": "Misclassification Rate (%)"}},
    "color": {"field": "model", "type": "nominal", "scale": {"domain": ["DenseNet201", "MobileNetV2", "DenseNet201_MobileNetV2", "DeepForestNet", "DeepForestNet_PSO", "DeepForestNet_GWO", "DeepForestNet_IGWO"], "range": ["#ff00ff", "#00ffff", "#ffa500", "#800080", "#ff0000", "#008000", "#0000ff"]}, "legend": {"orient": "top-right", "title": null, "offset": 5, "symbolType": "M-1,-0.08L-0.55,-0.08L-0.55,0.08L-1,0.08Z M0.55,-0.08L1,-0.08L1,0.08L0.55,0.08Z M-0.36,0A0.36,0.36,0,1,0,0.36,0A0.36,0.36,0,1,0,-0.36,0Z"}}
  },
  "layer": [
    {"mark": {"type": "line", "strokeDash": [5, 3], "strokeWidth": 1.5}},
    {"mark": {"type": "point", "filled": true, "size": 38, "opacity": 1, "strokeWidth": 0}}
  ]
}
]
}
